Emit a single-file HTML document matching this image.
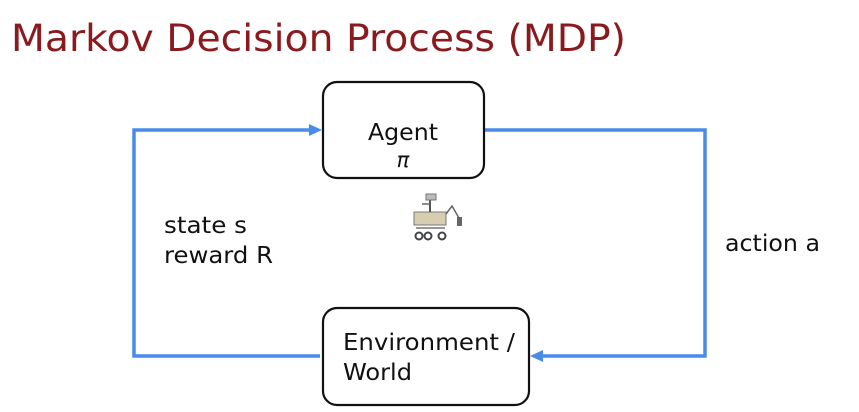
<!DOCTYPE html>
<html><head><meta charset="utf-8"><style>
html,body{margin:0;padding:0;background:#fff;}
svg{display:block;}
text{font-family:"DejaVu Sans","Liberation Sans",sans-serif;}
</style></head><body>
<svg width="859" height="412" viewBox="0 0 859 412" xmlns="http://www.w3.org/2000/svg">
<text x="11" y="51" font-size="37" fill="#8b1a1e" textLength="615" lengthAdjust="spacingAndGlyphs">Markov Decision Process (MDP)</text>
<g stroke="#4a8ae8" stroke-width="3.5" fill="none">
<polyline points="320,356 134,356 134,130 312,130"/>
<polyline points="484,130 705,130 705,356 540,356"/>
</g>
<polygon points="322,130 309,124 309,136" fill="#4a8ae8"/>
<polygon points="530,356 543,350 543,362" fill="#4a8ae8"/>
<rect x="323" y="82" width="161" height="96" rx="14" fill="#fff" stroke="#111" stroke-width="2.2"/>
<rect x="323" y="308" width="206" height="97" rx="14" fill="#fff" stroke="#111" stroke-width="2.2"/>
<text x="368" y="140" font-size="23" fill="#111" textLength="70" lengthAdjust="spacingAndGlyphs">Agent</text>
<text x="403" y="167" font-size="21" font-style="italic" text-anchor="middle" fill="#111" font-family="Liberation Serif,serif">π</text>
<text x="343" y="350" font-size="23" fill="#111" textLength="172" lengthAdjust="spacingAndGlyphs">Environment /</text>
<text x="343" y="380" font-size="23" fill="#111" textLength="69" lengthAdjust="spacingAndGlyphs">World</text>
<text x="164" y="233" font-size="23" fill="#111" textLength="83" lengthAdjust="spacingAndGlyphs">state s</text>
<text x="164" y="263" font-size="23" fill="#111" textLength="109" lengthAdjust="spacingAndGlyphs">reward R</text>
<text x="725" y="251" font-size="23" fill="#111" textLength="95" lengthAdjust="spacingAndGlyphs">action a</text>
<g>
<rect x="414" y="212" width="32" height="13" fill="#d8cdb0" stroke="#777" stroke-width="1"/>
<line x1="430" y1="212" x2="430" y2="198" stroke="#555" stroke-width="2"/>
<rect x="426" y="194" width="10" height="6" fill="#bbb" stroke="#777" stroke-width="1"/>
<line x1="422" y1="204" x2="430" y2="204" stroke="#666" stroke-width="1.5"/>
<polyline points="446,214 452,206 459,218" stroke="#666" stroke-width="1.5" fill="none"/>
<rect x="457" y="217" width="5" height="9" fill="#666"/>
<circle cx="419" cy="236" r="3.5" fill="#fff" stroke="#444" stroke-width="2"/>
<circle cx="428" cy="236" r="3.5" fill="#fff" stroke="#444" stroke-width="2"/>
<circle cx="442" cy="236" r="3.5" fill="#fff" stroke="#444" stroke-width="2"/>
<line x1="416" y1="228" x2="445" y2="228" stroke="#777" stroke-width="1.5"/>
</g>
</svg>
</body></html>
